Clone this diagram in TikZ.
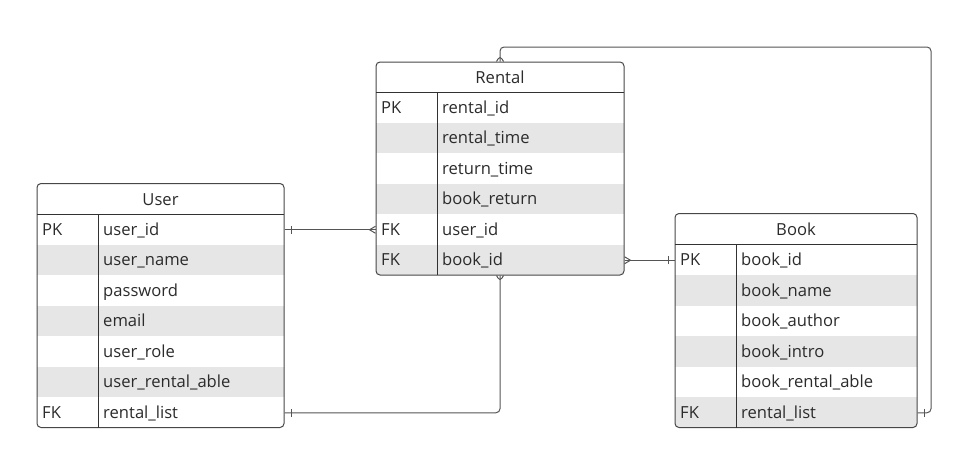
\documentclass[tikz,border=0pt]{standalone}
\usepackage{fontspec}
\setmainfont{Open Sans}
\usetikzlibrary{positioning, decorations.markings}
\definecolor{framegray}{HTML}{474747}
\definecolor{rowgray}{HTML}{E6E6E6}
\definecolor{linkgray}{HTML}{555555}
\definecolor{textgray}{HTML}{2B2B2B}

\tikzset{
  table/.style={draw=framegray, line width=1pt, rounded corners=4pt, inner sep=0pt},
  divider/.style={draw=framegray!70!black, line width=1pt},
  cell/.style={anchor=west, inner sep=0pt, text height=11pt, text depth=0pt,
               text=textgray, font=\fontsize{16.6}{19}\selectfont},
  title/.style={cell, anchor=center},
  link/.style={draw=linkgray, line width=1pt},
  one at start/.style={postaction={decorate, decoration={markings,
      mark=at position 6.5pt with {\draw[link] (0,-4pt) -- (0,4pt);}}}},
  one at end/.style={postaction={decorate, decoration={markings,
      mark=at position -6.5pt with {\draw[link] (0,-4pt) -- (0,4pt);}}}},
  many at start/.style={postaction={decorate, decoration={markings,
      mark=at position 0pt with {\draw[link] (0,-3.5pt) -- (6pt,0) -- (0,3.5pt);}}}},
  many at end/.style={postaction={decorate, decoration={markings,
      mark=at position 1 with {\draw[link] (0,-3.5pt) -- (-6pt,0) -- (0,3.5pt);}}}}
}

\begin{document}
\begin{tikzpicture}[x=1pt, y=-1pt]
    \useasboundingbox (0,0) rectangle (974,469);

    % Row shading
    \begin{scope}
        \clip[rounded corners=4pt] (37,183.5) rectangle (284,427.5);
        \foreach \r in {2,4,6}
            \fill[rowgray] (37,{214+30.5*(\r-1)}) rectangle ++(247,30.5);
    \end{scope}
    \begin{scope}
        \clip[rounded corners=4pt] (376,62) rectangle (624,275);
        \foreach \r in {2,4,6}
            \fill[rowgray] (376,{92+30.5*(\r-1)}) rectangle ++(248,30.5);
    \end{scope}
    \begin{scope}
        \clip[rounded corners=4pt] (675,213.5) rectangle (917,427.5);
        \foreach \r in {2,4,6}
            \fill[rowgray] (675,{244.5+30.5*(\r-1)}) rectangle ++(242,30.5);
    \end{scope}

    % Tables
    \node[table, minimum width=247pt, minimum height=244pt] (user) at (160.5,305.5) {};
    \node[table, minimum width=248pt, minimum height=213pt] (rental) at (500,168.5) {};
    \node[table, minimum width=242pt, minimum height=214pt] (book) at (796,320.5) {};

    \draw[divider] (37,214) -- (284,214) (98,214) -- (98,427.5);
    \draw[divider] (376,92) -- (624,92) (437,92) -- (437,275);
    \draw[divider] (675,244.5) -- (917,244.5) (736,244.5) -- (736,427.5);

    % Titles
    \node[title] (user-title) at (160.5,199.5) {User};
    \node[title] (rental-title) at (500,77.5) {Rental};
    \node[title] (book-title) at (796,229.5) {Book};

    % Fields
    \foreach \t [count=\i] in {user\_id, user\_name, password, email, user\_role,
                               user\_rental\_able, rental\_list}
        \node[cell] (u\i) at (103,{214.5+30.5*(\i-0.5)}) {\t};
    \foreach \t [count=\i] in {rental\_id, rental\_time, return\_time, book\_return,
                               user\_id, book\_id}
        \node[cell] (r\i) at (442,{92.5+30.5*(\i-0.5)}) {\t};
    \foreach \t [count=\i] in {book\_id, book\_name, book\_author, book\_intro,
                               book\_rental\_able, rental\_list}
        \node[cell] (b\i) at (741,{245+30.5*(\i-0.5)}) {\t};

    % Keys
    \node[cell] (uk1) at (42,0 |- u1) {PK};
    \node[cell] (uk7) at (42,0 |- u7) {FK};
    \node[cell] (rk1) at (381,0 |- r1) {PK};
    \node[cell] (rk5) at (381,0 |- r5) {FK};
    \node[cell] (rk6) at (381,0 |- r6) {FK};
    \node[cell] (bk1) at (680,0 |- b1) {PK};
    \node[cell] (bk6) at (680,0 |- b6) {FK};

    % Relations
    \coordinate (bend) at (931,47);
    \draw[link, one at start, many at end] (user.east |- u1) -- (rental.west |- r5);
    \draw[link, many at start, one at end] (rental.east |- r6) -- (book.west |- b1);
    \draw[link, many at start, one at end, rounded corners=4pt]
        (rental.north) |- (bend) |- (book.east |- b6);
    \draw[link, many at start, one at end, rounded corners=4pt]
        (rental.south) |- (user.east |- u7);
\end{tikzpicture}
\end{document}
